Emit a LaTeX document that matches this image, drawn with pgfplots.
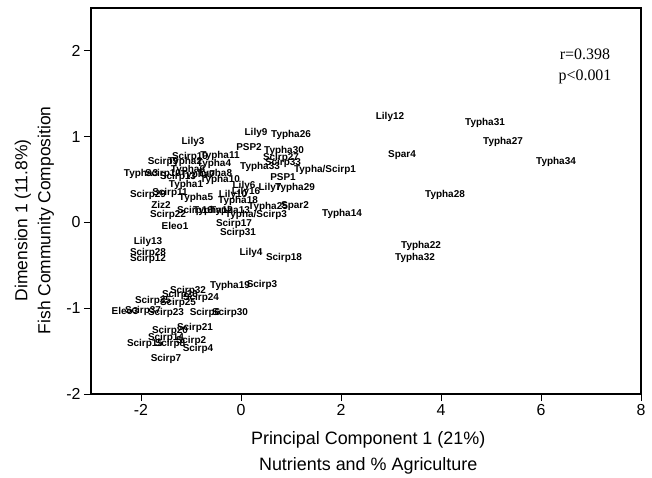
\documentclass[border=0pt]{standalone}
\usepackage{fontspec}
\setmainfont{Liberation Sans}
\newfontfamily\timesfont{Liberation Serif}
\usepackage{pgfplots}
\usepackage{pgfplotstable}
\pgfplotsset{compat=1.18}

% site scores: PC1 (x) vs NMS dimension 1 (y)
\pgfplotstableread{
x y label
2.98 1.23 Lily12
4.88 1.16 Typha31
5.24 0.94 Typha27
6.30 0.71 Typha34
3.22 0.78 Spar4
4.08 0.32 Typha28
2.02 0.10 Typha14
3.60 -0.27 Typha22
3.48 -0.41 Typha32
0.30 1.04 Lily9
1.00 1.02 Typha26
0.16 0.88 PSP2
0.86 0.83 Typha30
0.80 0.75 Scirp27
0.84 0.69 Scirp33
0.38 0.65 Typha33
1.68 0.61 Typha/Scirp1
0.84 0.53 PSP1
0.58 0.40 Lily7
1.08 0.40 Typha29
0.06 0.42 Lily6
0.10 0.36 Lily16
-0.06 0.25 Typha18
0.54 0.18 Typha25
1.08 0.19 Spar2
0.30 0.09 Typha/Scirp3
-0.14 -0.02 Scirp17
-0.06 -0.12 Scirp31
0.20 -0.35 Lily4
0.86 -0.41 Scirp18
-0.22 -0.74 Typha19
0.42 -0.73 Scirp3
-0.96 0.94 Lily3
-1.02 0.76 Scirp19
-0.42 0.77 Typha11
-1.56 0.70 Scirp9
-1.12 0.71 Typha2
-0.54 0.68 Typha4
-2.00 0.57 Typha3
-1.56 0.57 Scirp10
-1.06 0.61 Typha6
-0.86 0.55 Typha7
-0.52 0.57 Typha8
-1.26 0.53 Scirp13
-0.42 0.49 Typha10
-1.10 0.44 Typha1
-1.86 0.32 Scirp29
-1.42 0.34 Scirp11
-0.90 0.29 Typha5
-0.16 0.32 Lily10
-1.60 0.20 Ziz2
-0.92 0.14 Scirp16
-0.56 0.14 Typha12
-1.46 0.09 Scirp22
-0.22 0.14 Typha13
-1.32 -0.04 Eleo1
-1.86 -0.23 Lily13
-1.86 -0.36 Scirp28
-1.86 -0.42 Scirp12
-1.06 -0.80 Scirp32
-1.22 -0.84 Scirp26
-0.80 -0.88 Scirp24
-1.26 -0.94 Scirp25
-1.76 -0.91 Scirp35
-2.32 -1.03 Eleo3
-1.96 -1.03 Scirp37
-1.50 -1.06 Scirp23
-0.72 -1.06 Scirp6
-0.22 -1.05 Scirp30
-0.92 -1.23 Scirp21
-1.42 -1.26 Scirp20
-1.50 -1.35 Scirp14
-1.92 -1.42 Scirp15
-1.42 -1.42 Scirp8
-1.00 -1.38 Scirp2
-0.86 -1.47 Scirp4
-1.50 -1.59 Scirp7
}\sites

\begin{document}
\begin{tikzpicture}
\path[use as bounding box] (-91bp,-84bp) rectangle (561bp,394bp);
\begin{axis}[
    width=550bp, height=386bp, scale only axis,
    xmin=-3, xmax=8, ymin=-2, ymax=2.5,
    xtick={-2,0,2,4,6,8}, ytick={-2,-1,0,1,2},
    tick align=outside, xtick pos=bottom, ytick pos=left,
    major tick length=7bp,
    axis line style={line width=1.1pt},
    every tick/.style={black, line width=1pt},
    ticklabel style={font=\fontsize{16}{16}\selectfont},
    /pgf/number format/assume math mode=true,
    xlabel={Principal Component 1 (21\%)\\Nutrients and \% Agriculture},
    ylabel={Dimension 1 (11.8\%)\\Fish Community Composition},
    xlabel style={at={(axis description cs:0.504,-0.153)}, anchor=center,
        align=center, font=\fontsize{18}{26}\selectfont},
    ylabel style={at={(axis description cs:-0.103,0.45)}, anchor=center,
        rotate=0, align=center, font=\fontsize{17.5}{23}\selectfont},
]
\addplot[only marks, mark=none, nodes near coords,
    point meta=explicit symbolic,
    every node near coord/.append style={anchor=center, inner sep=0pt,
        text=black, font=\bfseries\fontsize{10}{10}\selectfont}]
    table[x=x, y=y, meta=label] {\sites};
\node[font=\timesfont\fontsize{16}{16}\selectfont] at (axis cs:6.88,1.96) {r=0.398};
\node[font=\timesfont\fontsize{16}{16}\selectfont] at (axis cs:6.88,1.70) {p<0.001};
\end{axis}
\end{tikzpicture}
\end{document}
